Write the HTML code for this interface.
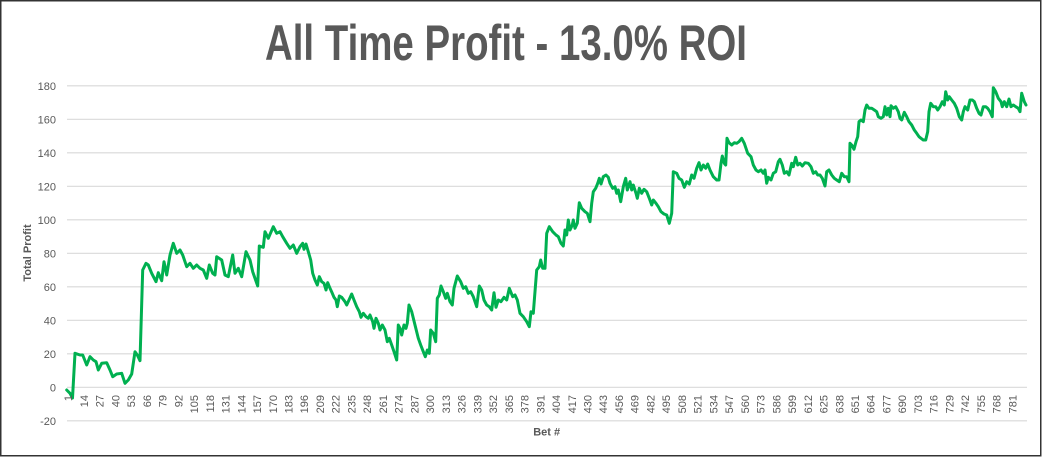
<!DOCTYPE html>
<html><head><meta charset="utf-8"><style>
html,body{margin:0;padding:0;background:#fff;}
svg{display:block;}
text{font-family:"Liberation Sans",sans-serif;fill:#595959;}
</style></head><body>
<svg width="1043" height="457" viewBox="0 0 1043 457" xmlns="http://www.w3.org/2000/svg">
<rect x="0" y="0" width="1043" height="457" fill="#fff"/>
<rect x="0.75" y="0.75" width="1040" height="455" fill="none" stroke="#333" stroke-width="1.5"/>
<text x="506" y="60" text-anchor="middle" font-size="50" font-weight="bold" textLength="482" lengthAdjust="spacingAndGlyphs">All Time Profit - 13.0% ROI</text>
<g stroke="#d9d9d9" stroke-width="1.2">
<line x1="67" y1="85.8" x2="1027" y2="85.8"/>
<line x1="67" y1="119.3" x2="1027" y2="119.3"/>
<line x1="67" y1="152.8" x2="1027" y2="152.8"/>
<line x1="67" y1="186.3" x2="1027" y2="186.3"/>
<line x1="67" y1="219.8" x2="1027" y2="219.8"/>
<line x1="67" y1="253.3" x2="1027" y2="253.3"/>
<line x1="67" y1="286.8" x2="1027" y2="286.8"/>
<line x1="67" y1="320.3" x2="1027" y2="320.3"/>
<line x1="67" y1="353.8" x2="1027" y2="353.8"/>
<line x1="67" y1="387.3" x2="1027" y2="387.3"/>
<line x1="67" y1="420.8" x2="1027" y2="420.8"/>
</g>
<g font-size="11" text-anchor="end">
<text x="56" y="89.8">180</text>
<text x="56" y="123.3">160</text>
<text x="56" y="156.8">140</text>
<text x="56" y="190.3">120</text>
<text x="56" y="223.8">100</text>
<text x="56" y="257.3">80</text>
<text x="56" y="290.8">60</text>
<text x="56" y="324.3">40</text>
<text x="56" y="357.8">20</text>
<text x="56" y="391.3">0</text>
<text x="56" y="424.8">-20</text>
</g>
<text transform="translate(27,253) rotate(-90)" dy=".35em" text-anchor="middle" font-size="11" font-weight="bold">Total Profit</text>
<text x="546.7" y="435.5" text-anchor="middle" font-size="11" font-weight="bold">Bet #</text>
<g font-size="11" text-anchor="end" id="xl"></g>
<polyline fill="none" stroke="#00B050" stroke-width="3" stroke-linejoin="round" stroke-linecap="round" points="
66.7,390 70,393.3 72.5,398 75,353.3 80,355 82.7,355 86.7,365 90,356.7 93.3,360 96,361.7 98.3,370 101.7,363.3 106.7,362.7 110,370 112.7,376.7 116.7,374 121.7,373.3 125,383.3 128.3,380 131.7,374 135,351.7 137.3,355 140,360.7 142.7,270 146,263.3 148.3,265 151.7,273.3 156,281.7 158.3,272.7 161.7,280.7 164,261.7 166.7,275 170,255 173.3,243.3 176.7,253.3 180,250 182.7,255 186.7,266.7 190,263.3 193.3,268.3 196.7,265 200,268.3 203.3,270 206.7,278.3 209.3,265 212.7,273.3 215,275 216.7,256.7 221.7,260 225,275 228.3,276.7 232.7,255 235,273.3 238.3,268.3 241.7,276.7 246,251.7 250,260 252.7,271.7 257.7,286 259.3,246 263.3,247.3 265,231.7 268.3,238.3 273.3,226.7 276.7,233.3 280,231.7 282.7,236.7 286.7,243.3 290,248.3 293.3,245 296.7,253.3 300,246.7 302.7,243.3 304,249.3 306,244 308.3,251.7 310.7,260 312.7,273.3 315,280 317.3,285 319.3,276.7 321.7,281.7 324,283.3 326,290 327.7,282.7 330,288.3 332.3,293.3 334,297.3 336,300 337.3,306.7 339.3,296 341.7,297.3 345,301.7 346.7,305 349,300 351.7,294 354,300 356.7,306.7 359.3,311.7 361,317.3 363.3,313.3 366,316.7 368.3,318.3 370,315 372.7,321.7 374,328.3 376,318.3 378.3,323.3 380,330 382.3,325 385,330 387.3,341.7 389.3,338.3 391.7,345 394,351.7 396.7,360 398.3,325 400,328.3 401.7,335 404,325 406,328.3 407.3,323.3 409,305 411.7,311.7 415,325 418.3,338.3 420.7,345 423.3,351.7 425.3,356.7 427.3,350 429.3,353.3 430.7,330 433.3,333.3 435.7,341.7 437.3,298.3 439.3,295 441,286 443.3,291.7 445.7,298.3 447.3,293.3 450,301.7 452.3,305 454,288.3 457.3,276 460.7,281.7 463.3,288.3 465.7,286.7 468.3,293.3 470.7,291.7 473.3,296.7 476.7,306.7 479.3,286 481.7,290 484,300 486.7,305 489.3,306.7 491.7,310 494,292.7 496,307.3 498.3,300 501,301.7 504,297.3 506.7,300 509.3,288.3 512.7,296.7 515,295 517.3,300 520,313.3 523.3,316.7 526.7,321.7 529.3,326.7 531,311.7 533.3,313.3 536.7,270 539.3,266.7 540.7,260 542.7,268.3 545,268.3 546.7,233.3 549.3,226.7 552.7,231.7 556,235 558.3,236.7 561,243.3 563.3,246 565,230 566.7,235 568.3,220 570,230 572.3,225 573.3,220 575,228.3 577.3,223.3 579.3,202.7 581.7,208.3 585,211.7 587.3,213.3 590,221.7 591.7,203.3 593.3,191.7 595.7,188.3 597.7,183.3 599.3,178.3 601,184 603.3,176.7 606,175 608.3,177.3 610,183.3 612.7,188.3 615,186.7 616.7,193.3 618.3,190 620.7,201.7 623.3,186.7 625.7,178.3 627.3,190 630,181.7 631.7,190 633.3,185 636,193.3 637.3,198.3 639.3,188.3 641.7,193.3 644,189.3 646.7,191.7 649.3,198.3 651.7,205 653.3,200 656,203.3 658.3,206.7 661,211.7 664,214 666.7,215 669.3,223.3 671.7,213.3 673.3,171.7 676.7,173.3 679,178.3 681.7,180 684.3,187.3 686.7,181.7 689.3,184 691.7,175 694,178.3 696.7,168.3 699,162.7 701,170 703.3,165 705.7,168.3 707.7,164 710,170 713.3,176.7 716.7,180 719,180 721,163.3 722.3,156 724.3,163.3 725.7,165 727,138.3 729,142.7 731.7,145 734.3,142.7 736.7,143.3 739,141.7 741.7,138.3 744.3,143.3 747.7,153.3 751,156.7 753.3,165 756,170 758.3,171.7 761,170 763.3,173.3 765,170 766.7,183.3 768.3,177.3 771,180 773.3,173.3 775.7,171.7 778.3,161.7 780,159.3 782.3,165 784.3,173.3 786.7,171.7 789,175 791.7,163.3 793.3,166.7 795.7,157.3 797.7,165 800,163.3 802.3,166 805,162.7 808.3,163.3 811,166.7 813.3,173.3 815.7,171.7 817.7,175 820,175 822.3,178.3 825,186 826.7,171.7 829,170 831.7,175 834.3,178.3 836.7,180 839.3,181.7 841.7,173.3 844.3,176.7 846.7,176.7 849,181.7 850,143.3 851.7,145 854,149.3 856,141.7 857.7,136.7 859,121.7 861,120 863.3,121.7 865,110 866.7,105 869,108.3 871.7,108.3 874.3,110 876.7,111.7 878.3,116.7 881,118.3 883.3,116.7 885,106.7 886.7,115 888.3,108.3 890,116.7 891,105.7 893.3,108.3 895.7,106.7 898.3,111.7 900,118.3 901.7,120 904.3,112.3 906.7,116.7 909,121.7 911.7,125 914.3,130 916.7,133.3 919,136.7 921,138.3 923.3,140 925.7,140 927.7,131.7 929,111.7 930.7,103.3 933.3,106.7 935.7,106.7 937.7,110 940,106.7 942.3,101.7 944.3,105 945.7,91.7 947.7,100 949.3,96.7 951.7,100 954.3,103.3 956.7,108.3 959.3,116.7 961.7,120 963.3,111.7 965,106.7 967.7,110 970,100 972.3,100 974.3,101.7 976.7,108.3 979,113.3 981,115 983.3,106.7 985.7,106.7 987.7,108.3 990,111.7 992.3,116.7 993.3,87.7 995.7,91.7 998.3,98.3 1001,101.7 1002.3,106.7 1004.3,101.7 1006.7,106.7 1009,99 1011,106.7 1013.3,105 1015.7,106.7 1018.3,108.3 1020,111.7 1021.7,93.3 1024.3,101.7 1026,105"/>
<g font-size="11" text-anchor="end">
<text transform="translate(68.3,395) rotate(-90)" dy=".35em">1</text>
<text transform="translate(84.0,395) rotate(-90)" dy=".35em">14</text>
<text transform="translate(99.8,395) rotate(-90)" dy=".35em">27</text>
<text transform="translate(115.5,395) rotate(-90)" dy=".35em">40</text>
<text transform="translate(131.2,395) rotate(-90)" dy=".35em">53</text>
<text transform="translate(147.0,395) rotate(-90)" dy=".35em">66</text>
<text transform="translate(162.7,395) rotate(-90)" dy=".35em">79</text>
<text transform="translate(178.4,395) rotate(-90)" dy=".35em">92</text>
<text transform="translate(194.2,395) rotate(-90)" dy=".35em">105</text>
<text transform="translate(209.9,395) rotate(-90)" dy=".35em">118</text>
<text transform="translate(225.6,395) rotate(-90)" dy=".35em">131</text>
<text transform="translate(241.4,395) rotate(-90)" dy=".35em">144</text>
<text transform="translate(257.1,395) rotate(-90)" dy=".35em">157</text>
<text transform="translate(272.9,395) rotate(-90)" dy=".35em">170</text>
<text transform="translate(288.6,395) rotate(-90)" dy=".35em">183</text>
<text transform="translate(304.3,395) rotate(-90)" dy=".35em">196</text>
<text transform="translate(320.1,395) rotate(-90)" dy=".35em">209</text>
<text transform="translate(335.8,395) rotate(-90)" dy=".35em">222</text>
<text transform="translate(351.5,395) rotate(-90)" dy=".35em">235</text>
<text transform="translate(367.3,395) rotate(-90)" dy=".35em">248</text>
<text transform="translate(383.0,395) rotate(-90)" dy=".35em">261</text>
<text transform="translate(398.8,395) rotate(-90)" dy=".35em">274</text>
<text transform="translate(414.5,395) rotate(-90)" dy=".35em">287</text>
<text transform="translate(430.2,395) rotate(-90)" dy=".35em">300</text>
<text transform="translate(446.0,395) rotate(-90)" dy=".35em">313</text>
<text transform="translate(461.7,395) rotate(-90)" dy=".35em">326</text>
<text transform="translate(477.4,395) rotate(-90)" dy=".35em">339</text>
<text transform="translate(493.2,395) rotate(-90)" dy=".35em">352</text>
<text transform="translate(508.9,395) rotate(-90)" dy=".35em">365</text>
<text transform="translate(524.6,395) rotate(-90)" dy=".35em">378</text>
<text transform="translate(540.4,395) rotate(-90)" dy=".35em">391</text>
<text transform="translate(556.1,395) rotate(-90)" dy=".35em">404</text>
<text transform="translate(571.9,395) rotate(-90)" dy=".35em">417</text>
<text transform="translate(587.6,395) rotate(-90)" dy=".35em">430</text>
<text transform="translate(603.3,395) rotate(-90)" dy=".35em">443</text>
<text transform="translate(619.1,395) rotate(-90)" dy=".35em">456</text>
<text transform="translate(634.8,395) rotate(-90)" dy=".35em">469</text>
<text transform="translate(650.5,395) rotate(-90)" dy=".35em">482</text>
<text transform="translate(666.3,395) rotate(-90)" dy=".35em">495</text>
<text transform="translate(682.0,395) rotate(-90)" dy=".35em">508</text>
<text transform="translate(697.7,395) rotate(-90)" dy=".35em">521</text>
<text transform="translate(713.5,395) rotate(-90)" dy=".35em">534</text>
<text transform="translate(729.2,395) rotate(-90)" dy=".35em">547</text>
<text transform="translate(745.0,395) rotate(-90)" dy=".35em">560</text>
<text transform="translate(760.7,395) rotate(-90)" dy=".35em">573</text>
<text transform="translate(776.4,395) rotate(-90)" dy=".35em">586</text>
<text transform="translate(792.2,395) rotate(-90)" dy=".35em">599</text>
<text transform="translate(807.9,395) rotate(-90)" dy=".35em">612</text>
<text transform="translate(823.6,395) rotate(-90)" dy=".35em">625</text>
<text transform="translate(839.4,395) rotate(-90)" dy=".35em">638</text>
<text transform="translate(855.1,395) rotate(-90)" dy=".35em">651</text>
<text transform="translate(870.8,395) rotate(-90)" dy=".35em">664</text>
<text transform="translate(886.6,395) rotate(-90)" dy=".35em">677</text>
<text transform="translate(902.3,395) rotate(-90)" dy=".35em">690</text>
<text transform="translate(918.1,395) rotate(-90)" dy=".35em">703</text>
<text transform="translate(933.8,395) rotate(-90)" dy=".35em">716</text>
<text transform="translate(949.5,395) rotate(-90)" dy=".35em">729</text>
<text transform="translate(965.3,395) rotate(-90)" dy=".35em">742</text>
<text transform="translate(981.0,395) rotate(-90)" dy=".35em">755</text>
<text transform="translate(996.7,395) rotate(-90)" dy=".35em">768</text>
<text transform="translate(1012.5,395) rotate(-90)" dy=".35em">781</text>
</g>
</svg>
</body></html>
